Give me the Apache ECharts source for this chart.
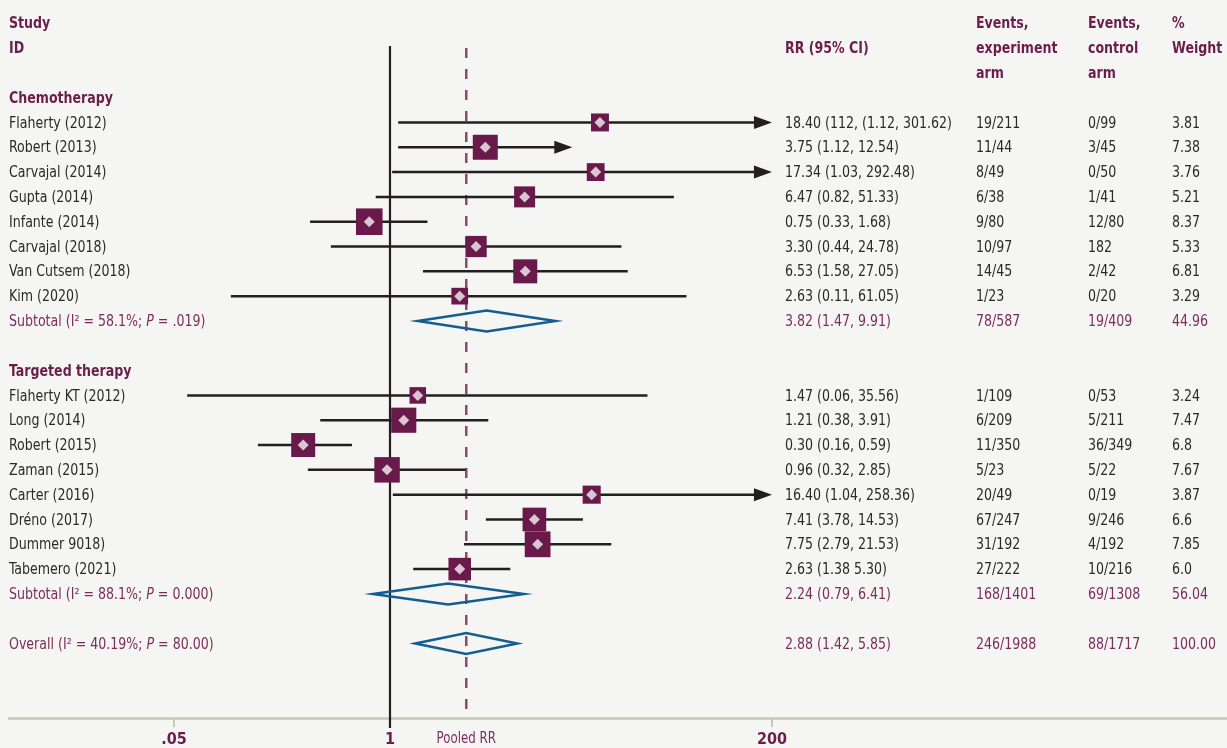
<!DOCTYPE html>
<html>
<head>
<meta charset="utf-8">
<script src="https://cdn.jsdelivr.net/npm/echarts@6/dist/echarts.min.js"></script>
<style>
html,body{margin:0;padding:0;background:#f5f5f3;}
#c{width:1227px;height:748px;}
</style>
</head>
<body>
<div id="c"></div>
<script>
// ---------- DATA ----------
const headerStudy = ['Study', 'ID'];
const headerRR = 'RR (95% CI)';
const headerExp = ['Events,', 'experiment', 'arm'];
const headerCtrl = ['Events,', 'control', 'arm'];
const headerWeight = ['%', 'Weight'];

const chemoTitle = 'Chemotherapy';
const chemoStudies = ['Flaherty (2012)', 'Robert (2013)', 'Carvajal (2014)', 'Gupta (2014)', 'Infante (2014)', 'Carvajal (2018)', 'Van Cutsem (2018)', 'Kim (2020)'];
const chemoRR = [18.40, 3.75, 17.34, 6.47, 0.75, 3.30, 6.53, 2.63];
const chemoLo = [1.12, 1.12, 1.03, 0.82, 0.33, 0.44, 1.58, 0.11];
const chemoHi = [301.62, 12.54, 292.48, 51.33, 1.68, 24.78, 27.05, 61.05];
const chemoRRText = ['18.40 (112, (1.12, 301.62)', '3.75 (1.12, 12.54)', '17.34 (1.03, 292.48)', '6.47 (0.82, 51.33)', '0.75 (0.33, 1.68)', '3.30 (0.44, 24.78)', '6.53 (1.58, 27.05)', '2.63 (0.11, 61.05)'];
const chemoExp = ['19/211', '11/44', '8/49', '6/38', '9/80', '10/97', '14/45', '1/23'];
const chemoCtrl = ['0/99', '3/45', '0/50', '1/41', '12/80', '182', '2/42', '0/20'];
const chemoWeight = ['3.81', '7.38', '3.76', '5.21', '8.37', '5.33', '6.81', '3.29'];
const chemoSubtotal = {label: ['Subtotal (I² = 58.1%; ', 'P', ' = .019)'], rr: 3.82, lo: 1.47, hi: 9.91, text: '3.82 (1.47, 9.91)', exp: '78/587', ctrl: '19/409', weight: '44.96'};

const targTitle = 'Targeted therapy';
const targStudies = ['Flaherty KT (2012)', 'Long (2014)', 'Robert (2015)', 'Zaman (2015)', 'Carter (2016)', 'Dréno (2017)', 'Dummer 9018)', 'Tabemero (2021)'];
const targRR = [1.47, 1.21, 0.30, 0.96, 16.40, 7.41, 7.75, 2.63];
const targLo = [0.06, 0.38, 0.16, 0.32, 1.04, 3.78, 2.79, 1.38];
const targHi = [35.56, 3.91, 0.59, 2.85, 258.36, 14.53, 21.53, 5.30];
const targRRText = ['1.47 (0.06, 35.56)', '1.21 (0.38, 3.91)', '0.30 (0.16, 0.59)', '0.96 (0.32, 2.85)', '16.40 (1.04, 258.36)', '7.41 (3.78, 14.53)', '7.75 (2.79, 21.53)', '2.63 (1.38 5.30)'];
const targExp = ['1/109', '6/209', '11/350', '5/23', '20/49', '67/247', '31/192', '27/222'];
const targCtrl = ['0/53', '5/211', '36/349', '5/22', '0/19', '9/246', '4/192', '10/216'];
const targWeight = ['3.24', '7.47', '6.8', '7.67', '3.87', '6.6', '7.85', '6.0'];
const targSubtotal = {label: ['Subtotal (I² = 88.1%; ', 'P', ' = 0.000)'], rr: 2.24, lo: 0.79, hi: 6.41, text: '2.24 (0.79, 6.41)', exp: '168/1401', ctrl: '69/1308', weight: '56.04'};

const overall = {label: ['Overall (I² = 40.19%; ', 'P', ' = 80.00)'], rr: 2.88, lo: 1.42, hi: 5.85, text: '2.88 (1.42, 5.85)', exp: '246/1988', ctrl: '88/1717', weight: '100.00'};

const arrowStudies = ['Flaherty (2012)', 'Robert (2013)', 'Carvajal (2014)', 'Carter (2016)'];
const tickValues = [0.05, 1, 200];
const tickLabels = ['.05', '1', '200'];
const pooledLabel = 'Pooled RR';
const nullValue = 1;

// ---------- STYLE ----------
const FONT = '"Liberation Sans Narrow", "DejaVu Sans Condensed", "Roboto", sans-serif';
const BG = '#f5f5f3';
const MAROON = '#6b1d4b';
const MAROON_LIGHT = '#7c2d5b';
const TEXT = '#2a2a2a';
const SQUARE = '#6a1a4a';
const INNER = '#d9c6d0';
const LINE = '#231f20';
const DIAMOND = '#135e8e';
const DASH = '#8c4a70';
const COL = {name: 9, rr: 785, exp: 976, ctrl: 1088, wt: 1172};
const FS = 16;
const SX = 0.875;   // horizontal condensing of text
const TY = 1;       // text baseline nudge

// ---------- BUILD ROWS ----------
const textRows = [];
textRows.push({row: -3, name: headerStudy[0], exp: headerExp[0], ctrl: headerCtrl[0], wt: headerWeight[0], kind: 'header'});
textRows.push({row: -2, name: headerStudy[1], rr: headerRR, exp: headerExp[1], ctrl: headerCtrl[1], wt: headerWeight[1], kind: 'header'});
textRows.push({row: -1, exp: headerExp[2], ctrl: headerCtrl[2], kind: 'header'});

const studyPoints = [];  // [est, row, lo, hi, weight, arrow]
const summaryPoints = []; // [est, row, lo, hi]
let r = 0;
function addGroup(title, names, rr, lo, hi, rrText, exp, ctrl, wt, sub) {
  textRows.push({row: r, name: title, kind: 'header'});
  r++;
  names.forEach((n, i) => {
    textRows.push({row: r, name: n, rr: rrText[i], exp: exp[i], ctrl: ctrl[i], wt: wt[i], kind: 'study'});
    studyPoints.push([rr[i], r, lo[i], hi[i], parseFloat(wt[i]), arrowStudies.indexOf(n) >= 0 ? 1 : 0]);
    r++;
  });
  textRows.push({row: r, label: sub.label, rr: sub.text, exp: sub.exp, ctrl: sub.ctrl, wt: sub.weight, kind: 'summary'});
  summaryPoints.push([sub.rr, r, sub.lo, sub.hi]);
  r += 2;
}
addGroup(chemoTitle, chemoStudies, chemoRR, chemoLo, chemoHi, chemoRRText, chemoExp, chemoCtrl, chemoWeight, chemoSubtotal);
addGroup(targTitle, targStudies, targRR, targLo, targHi, targRRText, targExp, targCtrl, targWeight, targSubtotal);
textRows.push({row: r, label: overall.label, rr: overall.text, exp: overall.exp, ctrl: overall.ctrl, wt: overall.weight, kind: 'summary'});
summaryPoints.push([overall.rr, r, overall.lo, overall.hi]);

const axisCap = tickValues[tickValues.length - 1];

// ---------- RENDERERS ----------
function txt(x, y, s, color, bold) {
  return {type: 'text', x: x, y: y + TY, scaleX: SX, style: {text: s, fill: color, font: (bold ? 'bold ' : '') + FS + 'px ' + FONT, textVerticalAlign: 'middle', textAlign: 'left'}};
}

function renderText(params, api) {
  const d = textRows[params.dataIndex];
  const y = api.coord([nullValue, d.row])[1];
  const children = [];
  if (d.kind === 'header') {
    ['name', 'rr', 'exp', 'ctrl', 'wt'].forEach(k => { if (d[k]) children.push(txt(COL[k], y, d[k], MAROON, true)); });
  } else if (d.kind === 'study') {
    ['name', 'rr', 'exp', 'ctrl', 'wt'].forEach(k => { if (d[k]) children.push(txt(COL[k], y, d[k], TEXT, false)); });
  } else {
    children.push({type: 'text', x: COL.name, y: y + TY, scaleX: SX, style: {
      text: '{n|' + d.label[0] + '}{i|' + d.label[1] + '}{n|' + d.label[2] + '}',
      textVerticalAlign: 'middle', textAlign: 'left',
      rich: {
        n: {fill: MAROON_LIGHT, font: FS + 'px ' + FONT},
        i: {fill: MAROON_LIGHT, font: 'italic ' + FS + 'px ' + FONT}
      }
    }});
    ['rr', 'exp', 'ctrl', 'wt'].forEach(k => children.push(txt(COL[k], y, d[k], MAROON_LIGHT, false)));
  }
  return {type: 'group', children: children};
}

function renderStudy(params, api) {
  const est = api.value(0), row = api.value(1), lo = api.value(2), hi = api.value(3), w = api.value(4), arrow = api.value(5);
  const p0 = api.coord([lo, row]);
  const p1 = api.coord([Math.min(hi, axisCap), row]);
  const pc = api.coord([est, row]);
  const s = 9.2 * Math.sqrt(w);
  const children = [];
  const endX = arrow ? p1[0] - 12 : p1[0];
  children.push({type: 'line', shape: {x1: p0[0], y1: p0[1], x2: endX, y2: p1[1]}, style: {stroke: LINE, lineWidth: 2.5}});
  if (arrow) {
    children.push({type: 'polygon', shape: {points: [[p1[0], p1[1]], [p1[0] - 18, p1[1] - 6.5], [p1[0] - 18, p1[1] + 6.5]]}, style: {fill: LINE}});
  }
  children.push({type: 'rect', shape: {x: pc[0] - s / 2, y: pc[1] - s / 2, width: s, height: s}, style: {fill: SQUARE}});
  const h = 5.5;
  children.push({type: 'polygon', shape: {points: [[pc[0], pc[1] - h], [pc[0] + h, pc[1]], [pc[0], pc[1] + h], [pc[0] - h, pc[1]]]}, style: {fill: INNER}});
  return {type: 'group', children: children};
}

function renderSummary(params, api) {
  const est = api.value(0), row = api.value(1), lo = api.value(2), hi = api.value(3);
  const a = api.coord([lo, row]), b = api.coord([hi, row]), c = api.coord([est, row]);
  const h = 10.5;
  return {type: 'polygon', shape: {points: [[a[0], a[1]], [c[0], c[1] - h], [b[0], b[1]], [c[0], c[1] + h]]},
    style: {fill: 'none', stroke: DIAMOND, lineWidth: 2.5, lineJoin: 'miter'}};
}

function renderRefLines(params, api) {
  const cs = params.coordSys;
  const kind = api.value(1);
  const x = api.coord([api.value(0), 0])[0];
  if (kind === 0) {
    return {type: 'line', shape: {x1: x, y1: cs.y - 2, x2: x, y2: cs.y + cs.height + 10}, style: {stroke: LINE, lineWidth: 2.2}};
  }
  return {type: 'group', children: [
    {type: 'line', shape: {x1: x, y1: cs.y, x2: x, y2: cs.y + cs.height - 6}, style: {stroke: DASH, lineWidth: 2.5, lineDash: [10, 11]}},
    {type: 'text', x: x, y: cs.y + cs.height + 21, scaleX: SX, style: {text: pooledLabel, fill: MAROON_LIGHT, font: '15px ' + FONT, textAlign: 'center', textVerticalAlign: 'middle'}}
  ]};
}

// ---------- CHART ----------
const chart = echarts.init(document.getElementById('c'), null, {renderer: 'canvas'});
chart.setOption({
  backgroundColor: BG,
  animation: false,
  grid: {left: 9, right: 0, top: 48, bottom: 26, containLabel: false},
  xAxis: {
    type: 'log', logBase: 10, min: 0.005068, max: 110200,
    splitLine: {show: false},
    axisLine: {show: true, onZero: false, lineStyle: {color: '#c5c8b4', width: 2.5}},
    axisTick: {show: true, customValues: [tickValues[0], tickValues[2]], length: 9, lineStyle: {color: '#c5c8b4', width: 2}},
    axisLabel: {show: true, customValues: tickValues, margin: 14, color: MAROON, fontWeight: 'bold', fontSize: 16, fontFamily: FONT,
      formatter: v => { const i = tickValues.findIndex(t => Math.abs(t - v) / t < 1e-6); return i >= 0 ? tickLabels[i] : ''; }}
  },
  yAxis: {type: 'value', inverse: true, min: -2, max: 25, show: false},
  series: [
    {type: 'custom', name: 'text', renderItem: renderText, data: textRows.map(d => [nullValue, d.row]), encode: {x: 0, y: 1}, z: 5, clip: false},
    {type: 'custom', name: 'ref', renderItem: renderRefLines, data: [[nullValue, 0], [overall.rr, 1]], encode: {x: 0}, z: 1, clip: false},
    {type: 'custom', name: 'studies', renderItem: renderStudy, data: studyPoints, encode: {x: 0, y: 1}, z: 3, clip: false},
    {type: 'custom', name: 'summaries', renderItem: renderSummary, data: summaryPoints, encode: {x: 0, y: 1}, z: 3, clip: false}
  ]
});
</script>
</body>
</html>
